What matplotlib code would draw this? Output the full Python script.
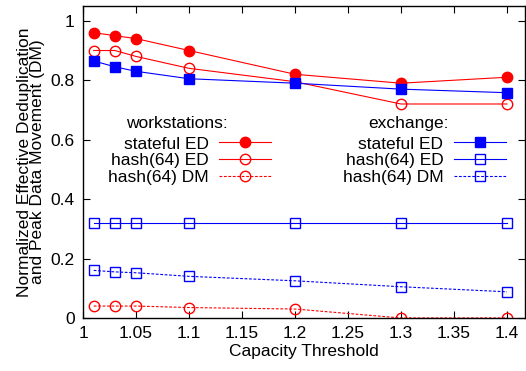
import numpy as np
import matplotlib
matplotlib.use('Agg')
import matplotlib.pyplot as plt
from matplotlib.lines import Line2D

plt.rcParams['font.family'] = ['Liberation Sans', 'DejaVu Sans']
plt.rcParams['font.size'] = 12.5

# data
thresholds = [1.01, 1.03, 1.05, 1.1, 1.2, 1.3, 1.4]

ws_stateful_ed = [0.96, 0.95, 0.94, 0.90, 0.82, 0.79, 0.81]
ws_hash_ed = [0.90, 0.90, 0.88, 0.84, 0.795, 0.72, 0.72]
ws_hash_dm = [0.04, 0.04, 0.04, 0.035, 0.03, 0.0, 0.0]

ex_stateful_ed = [0.865, 0.845, 0.83, 0.805, 0.79, 0.77, 0.758]
ex_hash_ed = [0.32, 0.32, 0.32, 0.32, 0.32, 0.32, 0.32]
ex_hash_dm = [0.16, 0.155, 0.152, 0.14, 0.125, 0.105, 0.088]

x_ticks = [1, 1.05, 1.1, 1.15, 1.2, 1.25, 1.3, 1.35, 1.4]
x_tick_labels = ['1', '1.05', '1.1', '1.15', '1.2', '1.25', '1.3', '1.35', '1.4']
y_ticks = [0, 0.2, 0.4, 0.6, 0.8, 1]
y_tick_labels = ['0', '0.2', '0.4', '0.6', '0.8', '1']

red = '#ff0000'
blue = '#0000ff'
lw = 0.8
ms = 7.5
dash = (0, (2.5, 1.5))

fig = plt.figure(figsize=(5.26, 3.71), dpi=100)
ax = fig.add_axes([0.158, 0.143, 0.84, 0.841])

ax.plot(thresholds, ws_stateful_ed, color=red, lw=lw, marker='o', ms=ms, mfc=red, mec=red)
ax.plot(thresholds, ws_hash_ed, color=red, lw=lw, marker='o', ms=ms, mfc='none', mec=red)
ax.plot(thresholds, ws_hash_dm, color=red, lw=lw, ls=dash, marker='o', ms=ms, mfc='none', mec=red)

ax.plot(thresholds, ex_stateful_ed, color=blue, lw=lw, marker='s', ms=ms, mfc=blue, mec=blue)
ax.plot(thresholds, ex_hash_ed, color=blue, lw=lw, marker='s', ms=ms, mfc='none', mec=blue)
ax.plot(thresholds, ex_hash_dm, color=blue, lw=lw, ls=dash, marker='s', ms=ms, mfc='none', mec=blue)

ax.set_xlim(1, 1.417)
ax.set_ylim(0, 1.05)
ax.set_xticks(x_ticks)
ax.set_xticklabels(x_tick_labels)
ax.set_yticks(y_ticks)
ax.set_yticklabels(y_tick_labels)
ax.tick_params(direction='in', top=True, right=True, length=5, width=0.8, pad=6)
for sp in ax.spines.values():
    sp.set_linewidth(1.0)

ax.set_xlabel('Capacity Threshold', labelpad=2)
ax.set_ylabel('Normalized Effective Deduplication\nand Peak Data Movement (DM)',
              linespacing=0.85, labelpad=4)

# gnuplot style keys: text then sample
def key_handles(color, marker):
    return [
        Line2D([], [], color=color, lw=lw, marker=marker, ms=ms, mfc=color, mec=color),
        Line2D([], [], color=color, lw=lw, marker=marker, ms=ms, mfc='none', mec=color),
        Line2D([], [], color=color, lw=lw, ls=dash, marker=marker, ms=ms, mfc='none', mec=color),
    ]

labels = ['stateful ED', 'hash(64) ED', 'hash(64) DM']
leg_kw = dict(markerfirst=False, frameon=False, loc='upper right', handlelength=3.0,
              handletextpad=0.6, labelspacing=0.1, borderpad=0, borderaxespad=0,
              fontsize=12.5)

leg1 = ax.legend(key_handles(red, 'o'), labels, bbox_to_anchor=(0.4255, 0.582), **leg_kw)
ax.add_artist(leg1)
leg2 = ax.legend(key_handles(blue, 's'), labels, bbox_to_anchor=(0.957, 0.582), **leg_kw)

ax.text(0.213, 0.622, 'workstations:', transform=ax.transAxes, ha='center', va='center')
ax.text(0.737, 0.622, 'exchange:', transform=ax.transAxes, ha='center', va='center')

fig.savefig('out.png', dpi=100)
